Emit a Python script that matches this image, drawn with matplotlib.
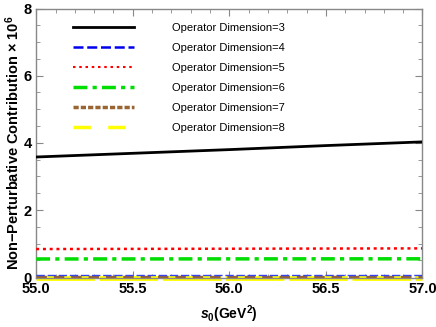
import matplotlib
matplotlib.use("Agg")
import matplotlib.pyplot as plt
from matplotlib.ticker import MultipleLocator
from matplotlib.lines import Line2D

# s0 values and contributions (x 10^6)
s0 = [55.0, 55.5, 56.0, 56.5, 57.0]
dim3 = [3.58, 3.69, 3.80, 3.92, 4.03]
dim4 = [0.07, 0.07, 0.07, 0.07, 0.07]
dim5 = [0.84, 0.845, 0.85, 0.855, 0.86]
dim6 = [0.545, 0.546, 0.548, 0.549, 0.55]
dim7 = [0.0, 0.0, 0.0, 0.0, 0.0]
dim8 = [-0.01, -0.01, -0.01, -0.01, -0.01]

labels = ["Operator Dimension=%d" % d for d in range(3, 9)]

plt.rcParams['font.family'] = ['Liberation Sans', 'DejaVu Sans']
plt.rcParams['mathtext.fontset'] = 'custom'
plt.rcParams['mathtext.rm'] = 'Liberation Sans:bold'
plt.rcParams['mathtext.it'] = 'Liberation Sans:bold:italic'
plt.rcParams['mathtext.bf'] = 'Liberation Sans:bold'

fig = plt.figure(figsize=(4.36, 3.27), dpi=100)
ax = fig.add_axes([0.083, 0.15, 0.886, 0.824])

ax.plot(s0, dim3, color='black', lw=2, zorder=5)
ax.plot(s0, dim8, color='#ffff00', lw=3.5, ls=(0, (12, 1)), zorder=2, clip_on=False)
ax.plot(s0, dim7, color='#996633', lw=2.5, ls=(0, (3, 2)), zorder=3)
ax.plot(s0, dim4, color='#3344ee', lw=1.0, ls=(0, (6, 2)), zorder=4)
ax.plot(s0, dim5, color='#ff0000', lw=1.8, ls=(0, (1.2, 1.5)), zorder=4)
ax.plot(s0, dim6, color='#00dd00', lw=2.5, ls=(0, (4, 1.5, 1.2, 1.5)), zorder=4)

# legend handles (styles as shown in the key)
handles = [
    Line2D([], [], color='black', lw=2),
    Line2D([], [], color='#0000ee', lw=1.8, ls=(0, (4, 1.5))),
    Line2D([], [], color='#ff0000', lw=1.5, ls=(0, (1.2, 1.8))),
    Line2D([], [], color='#00dd00', lw=2.5, ls=(0, (4, 1.5, 1.2, 1.5))),
    Line2D([], [], color='#996633', lw=2.5, ls=(0, (1.5, 0.6))),
    Line2D([], [], color='#ffff00', lw=2.5, ls=(0, (5, 5))),
]

ax.set_xlim(55, 57)
ax.set_ylim(-0.02, 8)
ax.xaxis.set_major_locator(MultipleLocator(0.5))
ax.xaxis.set_minor_locator(MultipleLocator(0.1))
ax.yaxis.set_major_locator(MultipleLocator(2))
ax.yaxis.set_minor_locator(MultipleLocator(0.5))
ax.xaxis.set_major_formatter(matplotlib.ticker.FormatStrFormatter('%.1f'))

for sp in ax.spines.values():
    sp.set_color('#888888')
    sp.set_linewidth(1)
ax.tick_params(which='both', direction='in', top=True, right=True, color='#888888')
ax.tick_params(which='major', length=5, labelsize=10.5, pad=3)
ax.tick_params(which='minor', length=3)
for t in ax.get_xticklabels() + ax.get_yticklabels():
    t.set_fontweight('bold')

ax.set_xlabel(r'$s_0$(GeV$^2$)', fontsize=10, fontweight='bold', labelpad=5)
ax.set_ylabel(r'Non$-$Perturbative Contribution $\times$ 10$^6$', fontsize=10.5,
              fontweight='bold', labelpad=1)

ax.legend(handles, labels, loc='upper left', bbox_to_anchor=(0.07, 0.985), frameon=False,
          fontsize=8, handlelength=5.5, handletextpad=3.4, labelspacing=0.9)

fig.savefig('out.png', dpi=100)
